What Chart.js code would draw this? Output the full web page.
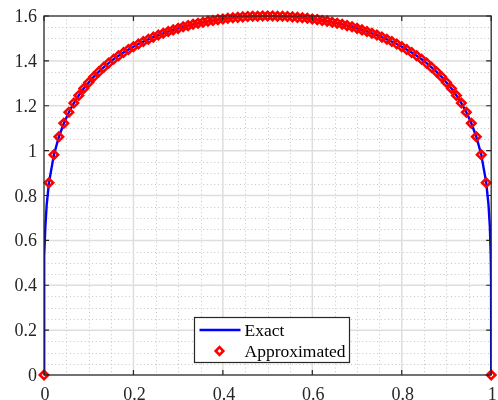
<!DOCTYPE html>
<html>
<head>
<meta charset="utf-8">
<title>Exact vs approximated solution</title>
<script src="https://cdn.jsdelivr.net/npm/chart.js@4.4.1/dist/chart.umd.min.js"></script>
<style>
  html, body { margin: 0; padding: 0; background: #fff; }
  canvas { display: block; }
</style>
</head>
<body>
<canvas id="solution-chart" width="498" height="400"></canvas>
<script>
/* ============================================
   solution.js - exact vs approximated solution
   ============================================ */

// ---- Data ----
// collocation nodes (x) and approximated values
const nodeX = [
  0, 0.0111, 0.0222, 0.0333, 0.0444, 0.0556, 0.0667, 0.0778, 0.0889, 0.1,
  0.1111, 0.1222, 0.1333, 0.1444, 0.1556, 0.1667, 0.1778, 0.1889, 0.2,
  0.2111, 0.2222, 0.2333, 0.2444, 0.2556, 0.2667, 0.2778, 0.2889, 0.3,
  0.3111, 0.3222, 0.3333, 0.3444, 0.3556, 0.3667, 0.3778, 0.3889, 0.4,
  0.4111, 0.4222, 0.4333, 0.4444, 0.4556, 0.4667, 0.4778, 0.4889, 0.5,
  0.5111, 0.5222, 0.5333, 0.5444, 0.5556, 0.5667, 0.5778, 0.5889, 0.6,
  0.6111, 0.6222, 0.6333, 0.6444, 0.6556, 0.6667, 0.6778, 0.6889, 0.7,
  0.7111, 0.7222, 0.7333, 0.7444, 0.7556, 0.7667, 0.7778, 0.7889, 0.8,
  0.8111, 0.8222, 0.8333, 0.8444, 0.8556, 0.8667, 0.8778, 0.8889, 0.9,
  0.9111, 0.9222, 0.9333, 0.9444, 0.9556, 0.9667, 0.9778, 0.9889, 1
];
const approxY = [
  0, 0.857, 0.982, 1.062, 1.122, 1.171, 1.212, 1.246, 1.277, 1.304,
  1.329, 1.351, 1.371, 1.390, 1.407, 1.423, 1.437, 1.451, 1.463,
  1.475, 1.486, 1.496, 1.506, 1.515, 1.523, 1.531, 1.538, 1.545,
  1.552, 1.557, 1.563, 1.568, 1.572, 1.577, 1.580, 1.584, 1.587,
  1.590, 1.592, 1.594, 1.596, 1.598, 1.599, 1.599, 1.600, 1.600,
  1.600, 1.599, 1.599, 1.598, 1.596, 1.594, 1.592, 1.590, 1.587,
  1.584, 1.580, 1.577, 1.572, 1.568, 1.563, 1.557, 1.552, 1.545,
  1.538, 1.531, 1.523, 1.515, 1.506, 1.496, 1.486, 1.475, 1.463,
  1.451, 1.437, 1.423, 1.407, 1.390, 1.371, 1.351, 1.329, 1.304,
  1.277, 1.246, 1.212, 1.171, 1.122, 1.062, 0.982, 0.857, 0
];
// extra samples of the exact solution close to the boundaries
const edgeX = [0.00003, 0.0003, 0.001, 0.003, 0.006, 0.994, 0.997, 0.999, 0.9997, 0.99997];
const edgeY = [0.263, 0.417, 0.530, 0.660, 0.758, 0.758, 0.660, 0.530, 0.417, 0.263];

const xTicks = [0, 0.2, 0.4, 0.6, 0.8, 1];
const xTickLabels = ['0', '0.2', '0.4', '0.6', '0.8', '1'];
const yTicks = [0, 0.2, 0.4, 0.6, 0.8, 1, 1.2, 1.4, 1.6];
const yTickLabels = ['0', '0.2', '0.4', '0.6', '0.8', '1', '1.2', '1.4', '1.6'];
const seriesNames = ['Exact', 'Approximated'];

// ---- Styles ----
const FONT = '18px "Liberation Serif", "Times New Roman", serif';
const AXIS_COLOR = '#262626';
const EXACT_COLOR = '#0000ff';
const APPROX_COLOR = '#ff0000';

const approxPoints = nodeX.map((x, i) => ({ x, y: approxY[i] }));
const exactPoints = approxPoints
  .concat(edgeX.map((x, i) => ({ x, y: edgeY[i] })))
  .sort((a, b) => a.x - b.x);

function diamond(ctx, cx, cy, r) {
  ctx.beginPath();
  ctx.moveTo(cx, cy - r);
  ctx.lineTo(cx + r, cy);
  ctx.lineTo(cx, cy + r);
  ctx.lineTo(cx - r, cy);
  ctx.closePath();
}

// grid, box, inward ticks, labels and legend drawn MATLAB-style
const matlabAxes = {
  id: 'matlabAxes',
  beforeDatasetsDraw(chart) {
    const { ctx, chartArea: a, scales: { x, y } } = chart;
    ctx.save();

    // minor grid (dotted)
    ctx.strokeStyle = '#c4c4c4';
    ctx.lineWidth = 1;
    ctx.setLineDash([1, 2.7]);
    ctx.beginPath();
    for (let i = 1; i < 20; i++) {
      if (i % 4 === 0) continue;
      const px = Math.round(x.getPixelForValue(i * 0.05)) + 0.5;
      ctx.moveTo(px, a.top);
      ctx.lineTo(px, a.bottom);
    }
    for (let i = 1; i < 32; i++) {
      if (i % 4 === 0) continue;
      const py = Math.round(y.getPixelForValue(i * 0.05)) + 0.5;
      ctx.moveTo(a.left, py);
      ctx.lineTo(a.right, py);
    }
    ctx.stroke();

    // major grid
    ctx.setLineDash([]);
    ctx.strokeStyle = '#dedede';
    ctx.lineWidth = 1.5;
    ctx.beginPath();
    xTicks.forEach(v => {
      const px = x.getPixelForValue(v);
      ctx.moveTo(px, a.top);
      ctx.lineTo(px, a.bottom);
    });
    yTicks.forEach(v => {
      const py = y.getPixelForValue(v);
      ctx.moveTo(a.left, py);
      ctx.lineTo(a.right, py);
    });
    ctx.stroke();
    ctx.restore();
  },

  afterDraw(chart) {
    const { ctx, chartArea: a, scales: { x, y } } = chart;
    const tickLen = 5;
    ctx.save();

    // box + inward ticks
    ctx.strokeStyle = AXIS_COLOR;
    ctx.lineWidth = 1.2;
    ctx.strokeRect(a.left, a.top, a.right - a.left, a.bottom - a.top);
    ctx.beginPath();
    xTicks.forEach(v => {
      const px = x.getPixelForValue(v);
      ctx.moveTo(px, a.bottom);
      ctx.lineTo(px, a.bottom - tickLen);
      ctx.moveTo(px, a.top);
      ctx.lineTo(px, a.top + tickLen);
    });
    yTicks.forEach(v => {
      const py = y.getPixelForValue(v);
      ctx.moveTo(a.left, py);
      ctx.lineTo(a.left + tickLen, py);
      ctx.moveTo(a.right, py);
      ctx.lineTo(a.right - tickLen, py);
    });
    ctx.stroke();

    // tick labels
    ctx.fillStyle = AXIS_COLOR;
    ctx.font = FONT;
    ctx.textBaseline = 'alphabetic';
    ctx.textAlign = 'center';
    xTicks.forEach((v, i) => {
      ctx.fillText(xTickLabels[i], x.getPixelForValue(v) + 1, a.bottom + 24.5);
    });
    ctx.textAlign = 'right';
    yTicks.forEach((v, i) => {
      ctx.fillText(yTickLabels[i], a.left - 7, y.getPixelForValue(v) + 6);
    });

    // legend
    const lx = 194.5, ly = 317.5, lw = 155, lh = 45;
    ctx.fillStyle = '#ffffff';
    ctx.fillRect(lx, ly, lw, lh);
    ctx.strokeStyle = AXIS_COLOR;
    ctx.lineWidth = 1.2;
    ctx.strokeRect(lx, ly, lw, lh);

    ctx.strokeStyle = EXACT_COLOR;
    ctx.lineWidth = 2.5;
    ctx.beginPath();
    ctx.moveTo(lx + 5, ly + 12.5);
    ctx.lineTo(lx + 46, ly + 12.5);
    ctx.stroke();

    ctx.strokeStyle = APPROX_COLOR;
    ctx.lineWidth = 2.6;
    diamond(ctx, lx + 25, ly + 33.5, 3.8);
    ctx.stroke();

    ctx.fillStyle = '#000000';
    ctx.font = '17.5px "Liberation Serif", "Times New Roman", serif';
    ctx.textAlign = 'left';
    ctx.fillText(seriesNames[0], lx + 50, ly + 18.5);
    ctx.fillText(seriesNames[1], lx + 50, ly + 39.5);
    ctx.restore();
  }
};

const solutionChart = new Chart(document.getElementById('solution-chart'), {
  type: 'scatter',
  data: {
    datasets: [{
      label: seriesNames[0],
      data: exactPoints,
      showLine: true,
      borderColor: EXACT_COLOR,
      borderWidth: 2.4,
      pointRadius: 0,
      pointHoverRadius: 0,
      tension: 0,
      order: 2
    }, {
      label: seriesNames[1],
      data: approxPoints,
      showLine: false,
      pointStyle: 'rectRot',
      pointRadius: 4.2,
      pointBorderWidth: 2.6,
      pointBorderColor: APPROX_COLOR,
      pointBackgroundColor: 'rgba(0,0,0,0)',
      clip: false,
      order: 1
    }]
  },
  options: {
    responsive: false,
    animation: false,
    events: [],
    layout: { padding: { left: 44, right: 0.5, top: 16, bottom: 25 } },
    plugins: {
      legend: { display: false },
      tooltip: { enabled: false }
    },
    scales: {
      x: {
        type: 'linear', min: 0, max: 1,
        ticks: { display: false },
        grid: { display: false },
        border: { display: false },
        afterFit: (s) => { s.height = 0; }
      },
      y: {
        type: 'linear', min: 0, max: 1.6,
        ticks: { display: false },
        grid: { display: false },
        border: { display: false },
        afterFit: (s) => { s.width = 0; }
      }
    }
  },
  plugins: [matlabAxes]
});
</script>
</body>
</html>
